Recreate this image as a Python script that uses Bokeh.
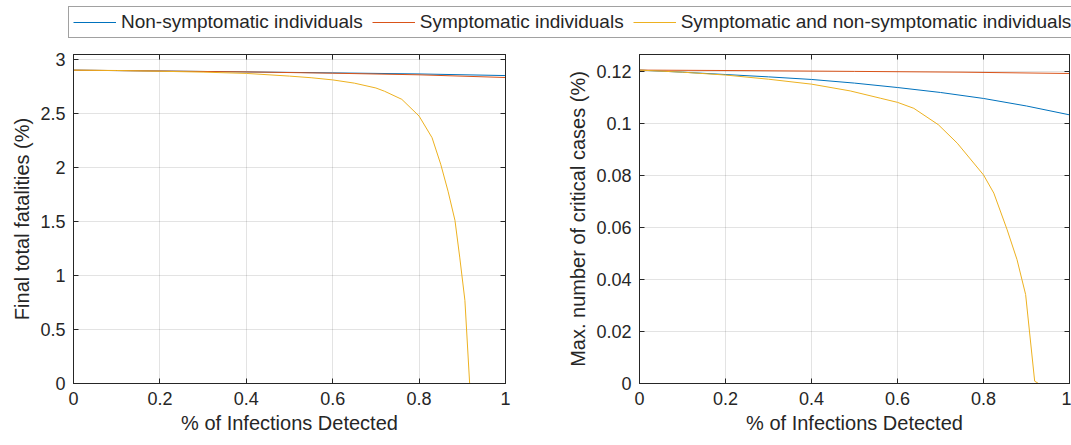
from bokeh.plotting import figure
from bokeh.models import Range1d, FixedTicker, LinearAxis, Legend, LegendItem
from bokeh.layouts import column, row
from bokeh.embed import file_html
from bokeh.resources import INLINE

# ---------------- data ----------------
series_names = ["Non-symptomatic individuals", "Symptomatic individuals",
                "Symptomatic and non-symptomatic individuals"]
series_colors = ["#0072BD", "#D95319", "#EDB120"]

x_ticks = [0, 0.2, 0.4, 0.6, 0.8, 1]
x_tick_labels = ["0", "0.2", "0.4", "0.6", "0.8", "1"]
fat_ticks = [0, 0.5, 1, 1.5, 2, 2.5, 3]
fat_tick_labels = ["0", "0.5", "1", "1.5", "2", "2.5", "3"]
crit_ticks = [0, 0.02, 0.04, 0.06, 0.08, 0.1, 0.12]
crit_tick_labels = ["0", "0.02", "0.04", "0.06", "0.08", "0.1", "0.12"]

# Left panel: final total fatalities (%)
fat_x_nonsym = [0, 0.2, 0.4, 0.6, 0.8, 1.0]
fat_nonsym = [2.900, 2.892, 2.884, 2.875, 2.865, 2.850]
fat_x_sym = [0, 0.2, 0.4, 0.6, 0.8, 1.0]
fat_sym = [2.900, 2.892, 2.884, 2.872, 2.857, 2.832]
fat_x_both = [0, 0.1, 0.2, 0.3, 0.4, 0.5, 0.55, 0.6, 0.65, 0.7, 0.72, 0.76,
              0.8, 0.83, 0.85, 0.867, 0.883, 0.894, 0.906, 0.917, 0.95, 1.0]
fat_both = [2.900, 2.897, 2.890, 2.882, 2.870, 2.845, 2.830, 2.810, 2.780, 2.735, 2.705, 2.630,
            2.475, 2.275, 2.030, 1.780, 1.510, 1.170, 0.770, 0.0, 0.0, 0.0]

# Right panel: max. number of critical cases (%)
crit_x_nonsym = [0, 0.1, 0.2, 0.3, 0.4, 0.5, 0.6, 0.7, 0.8, 0.9, 1.0]
crit_nonsym = [0.1205, 0.1197, 0.1188, 0.1179, 0.1169, 0.1155, 0.1138, 0.1119, 0.1096, 0.1067, 0.1033]
crit_x_sym = [0, 0.25, 0.5, 0.75, 1.0]
crit_sym = [0.1205, 0.1203, 0.1200, 0.1197, 0.1192]
crit_x_both = [0, 0.1, 0.2, 0.3, 0.4, 0.49, 0.56, 0.6, 0.638, 0.695, 0.739, 0.8,
               0.824, 0.855, 0.878, 0.898, 0.919, 0.928, 1.0]
crit_both = [0.1205, 0.1197, 0.1186, 0.1170, 0.1151, 0.1125, 0.1097, 0.1081, 0.1058, 0.0995, 0.0924, 0.0802,
             0.0732, 0.0591, 0.0476, 0.0342, 0.0009, 0.0, 0.0]

FONT = "Liberation Sans"
TXT = "#262626"


def style_axis(ax, ticks, labels, show_labels=True):
    ax.ticker = FixedTicker(ticks=ticks)
    ax.major_tick_in = 5
    ax.major_tick_out = 0
    ax.minor_tick_line_color = None
    ax.axis_line_color = TXT
    ax.major_tick_line_color = TXT
    ax.major_label_text_font = FONT
    if show_labels:
        ax.major_label_overrides = {t: l for t, l in zip(ticks, labels)}
        ax.major_label_text_color = TXT
        ax.major_label_text_font_size = "18px"
        ax.major_label_standoff = 8
    else:
        ax.major_label_text_color = None
        ax.major_label_text_font_size = "1px"
        ax.major_label_standoff = 0
    ax.axis_label_text_font = FONT
    ax.axis_label_text_font_size = "20px"
    ax.axis_label_text_font_style = "normal"
    ax.axis_label_text_color = TXT
    ax.axis_label_standoff = 4


def make_panel(width, border_left, border_right, ymax, yticks, ylabels, ylabel, data):
    p = figure(width=width, height=400, output_backend="svg", toolbar_location=None,
               x_range=Range1d(0, 1), y_range=Range1d(0, ymax),
               min_border_left=border_left, min_border_right=border_right,
               min_border_top=9, min_border_bottom=62)
    p.background_fill_color = "white"
    p.border_fill_color = "white"
    p.outline_line_color = TXT
    for (xs, ys), c in zip(data, series_colors):
        p.line(xs, ys, line_color=c, line_width=1)
    style_axis(p.xaxis[0], x_ticks, x_tick_labels)
    style_axis(p.yaxis[0], yticks, ylabels)
    p.xaxis[0].axis_label = "% of Infections Detected"
    p.yaxis[0].axis_label = ylabel
    top = LinearAxis()
    style_axis(top, x_ticks, x_tick_labels, show_labels=False)
    p.add_layout(top, "above")
    right = LinearAxis()
    style_axis(right, yticks, ylabels, show_labels=False)
    p.add_layout(right, "right")
    for g in (p.xgrid[0], p.ygrid[0]):
        g.grid_line_color = TXT
        g.grid_line_alpha = 0.13
    p.xgrid[0].ticker = FixedTicker(ticks=x_ticks)
    p.ygrid[0].ticker = FixedTicker(ticks=yticks)
    return p


left_data = [(fat_x_nonsym, fat_nonsym), (fat_x_sym, fat_sym), (fat_x_both, fat_both)]
p1 = make_panel(560, 73, 55, 3.045, fat_ticks, fat_tick_labels, "Final total fatalities (%)", left_data)
p2 = make_panel(511, 79, 2, 0.1265, crit_ticks, crit_tick_labels, "Max. number of critical cases (%)",
                [(crit_x_nonsym, crit_nonsym), (crit_x_sym, crit_sym), (crit_x_both, crit_both)])

# legend strip: series drawn out of this strip's visible range, only their legend glyphs show
lg = figure(width=1071, height=45, output_backend="svg", toolbar_location=None,
            x_range=Range1d(0, 1), y_range=Range1d(10, 11),
            min_border=0, min_border_left=0, min_border_right=0, min_border_top=0, min_border_bottom=0)
lg.axis.visible = False
lg.grid.visible = False
lg.outline_line_color = None
items = []
for name, c, (xs, ys) in zip(series_names, series_colors, left_data):
    r = lg.line(xs, ys, line_color=c, line_width=1)
    items.append(LegendItem(label=name, renderers=[r]))
legend = Legend(items=items, orientation="horizontal", location=(68, 7),
                label_text_font=FONT, label_text_font_size="19px", label_text_color=TXT,
                glyph_width=43, glyph_height=20, label_standoff=5, spacing=9, padding=4, margin=0,
                border_line_color="#444444", border_line_width=1, background_fill_alpha=1)
lg.add_layout(legend, "center")

layout = column(lg, row(p1, p2, spacing=0), spacing=0)
open("out.html", "w").write(file_html(layout, INLINE))
